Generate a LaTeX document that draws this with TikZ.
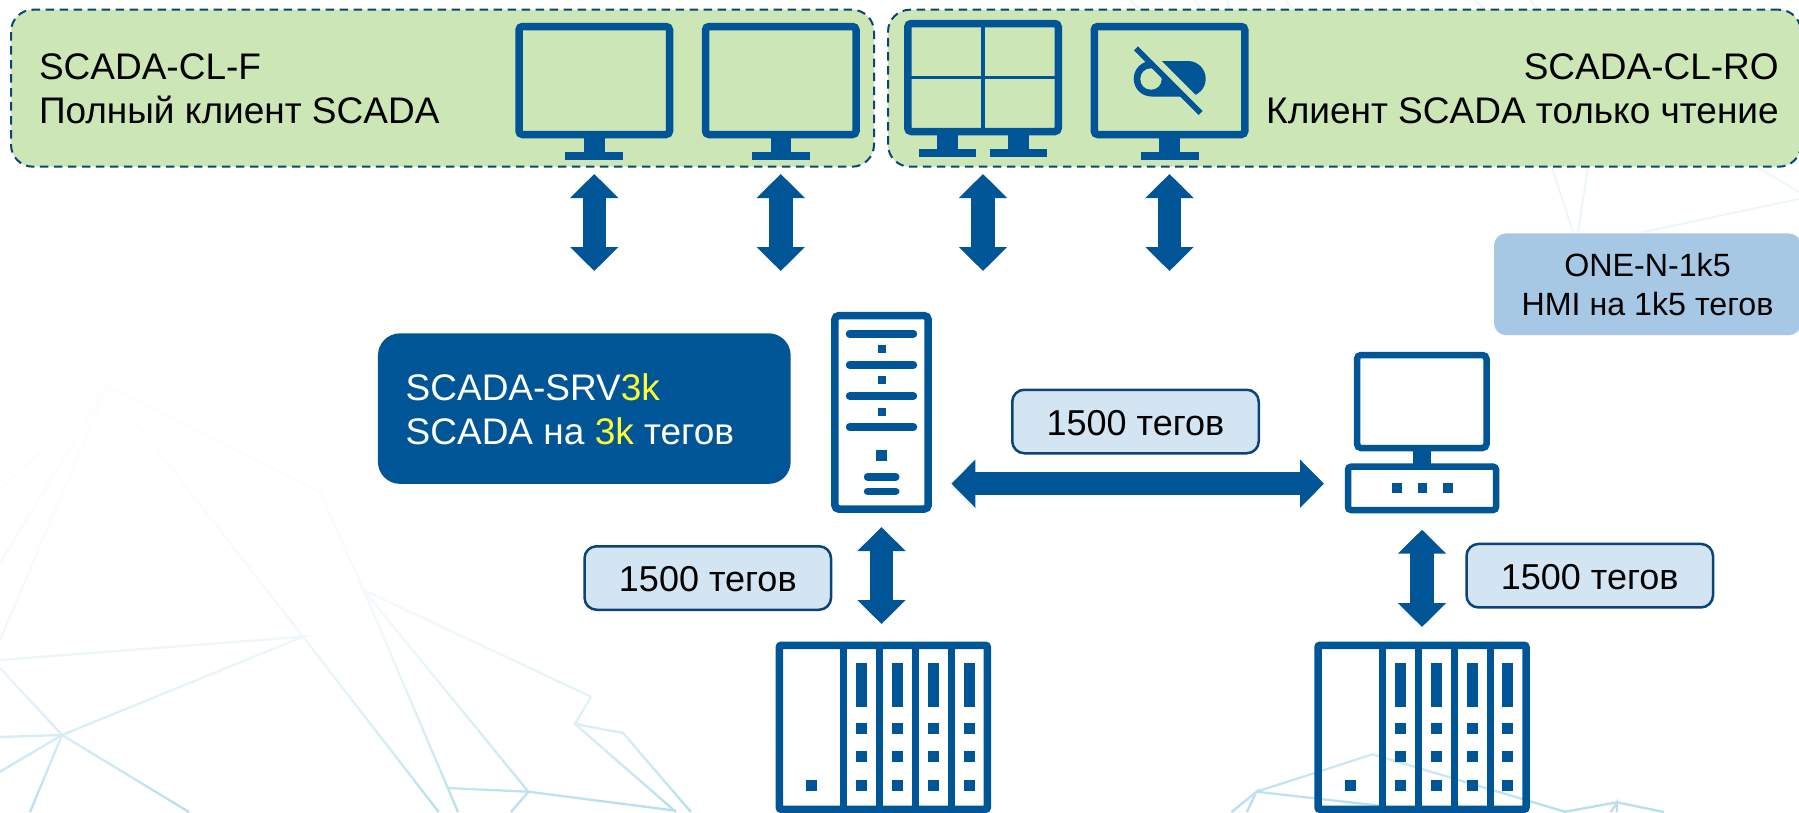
\documentclass[tikz,border=0pt]{standalone}
\usepackage{fontspec}
\setmainfont{Liberation Sans}
\usetikzlibrary{arrows.meta}
\definecolor{mainblue}{HTML}{005596}
\definecolor{edgeblue}{HTML}{0A4478}
\definecolor{panelgreen}{HTML}{CDE6B5}
\definecolor{tagblue}{HTML}{D3E4F3}
\definecolor{hmiblue}{HTML}{A6C8E4}
\definecolor{srvyellow}{HTML}{FFFF33}
\definecolor{meshblue}{HTML}{B5DFEE}
\definecolor{meshpale}{HTML}{EDF7FB}
\begin{document}
\begin{tikzpicture}[x=1pt,y=-1pt,
	panel/.style={rounded corners=22pt,fill=panelgreen,draw=edgeblue,line width=2pt,dash pattern=on 8.5pt off 5.5pt,inner sep=0,outer sep=0,minimum height=157pt},
	screen/.style={rounded corners=3.5pt,draw=mainblue,line width=7.5pt,inner sep=0,outer sep=0,minimum width=150.5pt,minimum height=108pt},
	plate/.style={fill=mainblue,inner sep=0,outer sep=0},
	tag/.style={rounded corners=12pt,fill=tagblue,draw=edgeblue,line width=2.5pt,inner sep=0,outer sep=0,minimum width=246.5pt,minimum height=63.5pt,text height=27pt,text depth=0pt,font=\fontsize{36}{44}\selectfont},
	big/.style={font=\fontsize{37}{44}\selectfont,inner sep=0,outer sep=0},
	flow/.style={{Triangle[length=24pt,width=47pt]}-{Triangle[length=24pt,width=47pt]},line width=23.5pt,mainblue},
	mesh/.style={meshblue,line width=2.3pt},
	rack/.style={rounded corners=2pt,draw=mainblue,line width=7.5pt,inner sep=0,outer sep=0,minimum width=208pt,minimum height=164pt}]

	\useasboundingbox (0,0) rectangle (1799,812);

	\draw[mesh] (0,490) -- (107.6,386) -- (0,563);
	\draw[mesh] (107.6,386) -- (0,640);
	\draw[mesh] (107.6,386) -- (303,636.7) -- (438.7,812);
	\draw[mesh] (107.6,386) -- (320,491.7) -- (363.5,590) -- (458,812);
	\draw[mesh] (363.5,590) -- (591,696.7) -- (575,724) -- (623,733) -- (691,812);
	\draw[mesh] (363.5,590) -- (528.4,791.7) -- (676,810.7);
	\draw[mesh] (575,724) -- (676,812);
	\draw[mesh] (448,788) -- (528.4,791.7) -- (511,812);
	\draw[mesh] (0,660) -- (303,636.7) -- (62,735) -- (0,668);
	\draw[mesh] (0,737) -- (62,735) -- (0,771.7);
	\draw[mesh] (30,812) -- (62,735) -- (189,812);
	\draw[mesh] (1231.6,812) -- (1256.4,791.7) -- (1247,812);
	\draw[mesh] (1256.4,791.7) -- (1372.5,754.3) -- (1566,812);
	\draw[mesh] (1256.4,791.7) -- (1380,805.7);
	\draw[mesh] (1563.6,812) -- (1617,802.3) -- (1664,812);
	\draw[mesh] (1611,812) -- (1617,802.3) -- (1617,812);
	\foreach \yy in {370,380,...,810} {
		\pgfmathsetmacro{\fadeval}{0.95-0.95*pow((\yy+5-370)/442,3.5)}
		\fill[white,opacity=\fadeval] (-1,\yy) rectangle (1800,\yy+10);
	}

	\draw[meshpale,line width=2pt] (1551.7,167) -- (1573,232);
	\draw[meshpale,line width=2pt] (1588,167) -- (1578,232);
	\draw[meshpale,line width=2pt] (1757,167) -- (1799,192);
	\draw[meshpale,line width=2pt] (1799,199) -- (1643,232);
	\foreach \xa/\xb in {1130/1143,1195/1202,1227/1230,1285/1295,1474/1488,1530/1540}
		\draw[meshpale,line width=2pt] (\xa,0) -- (\xb,12);

	\node[panel, minimum width=863pt] (clf) at (442.5,88.2) {};
	\node[panel, minimum width=913pt] (clro) at (1344.5,88.2) {};
	\node[big, anchor=base west, align=left] (clftext) at (39,123.3) {SCADA-CL-F\\Полный клиент SCADA};
	\node[big, anchor=base east, align=right] (clrotext) at (1778.7,123.3) {SCADA-CL-RO\\Клиент SCADA только чтение};

	\node[screen] (mon1) at (594.25,80.5) {};
	\node[plate, minimum width=20.5pt, minimum height=15pt] (neck1) [below of=mon1, node distance=64.5pt] {};
	\node[plate, minimum width=58pt, minimum height=8pt] (base1) [below of=mon1, node distance=75.5pt] {};
	\node[screen] (mon2) at (780.75,80.5) {};
	\node[plate, minimum width=20.5pt, minimum height=15pt] (neck2) [below of=mon2, node distance=64.5pt] {};
	\node[plate, minimum width=58pt, minimum height=8pt] (base2) [below of=mon2, node distance=75.5pt] {};
	\node[screen] (mon4) at (1169.5,80.5) {};
	\node[plate, minimum width=20.5pt, minimum height=15pt] (neck4) [below of=mon4, node distance=64.5pt] {};
	\node[plate, minimum width=58pt, minimum height=8pt] (base4) [below of=mon4, node distance=75.5pt] {};

	\node[screen] (mon3) at (983,77.5) {};
	\draw[mainblue,line width=3.5pt] (mon3.north) -- (mon3.south);
	\draw[mainblue,line width=3.5pt] (mon3.west) -- (mon3.east);
	\foreach \xs in {947.5,1018} {
		\fill[mainblue] (\xs-10.5,135) rectangle ++(21,15);
		\fill[mainblue] (\xs-28.5,149) rectangle ++(57,8);
	}

	\fill[mainblue, rounded corners=17.7pt] (1133.7,61) rectangle (1205.7,96.5);
	\fill[panelgreen] (1151,79) circle[radius=10.7pt];
	\draw[panelgreen,line width=6.4pt] (1140,44) -- (1210,114);
	\draw[mainblue,line width=5.7pt] (1136,48.3) -- (1200.7,113);

	\coordinate (a1) at (594.25,271);
	\coordinate (a2) at (780.75,271);
	\coordinate (a3) at (983,271);
	\coordinate (a4) at (1169.5,271);
	\draw[flow, shorten <=14pt] (base1) -- (a1);
	\draw[flow, shorten <=14pt] (base2) -- (a2);
	\draw[flow, shorten <=42.5pt] (mon3) -- (a3);
	\draw[flow, shorten <=14pt] (base4) -- (a4);

	\node[rounded corners=12pt, fill=hmiblue, inner sep=0, minimum width=307pt, minimum height=101.7pt, align=center, font=\fontsize{32.2}{38.7}\selectfont] (hmi) at (1647.5,284.3) {ONE-N-1k5\\HMI на 1k5 тегов};

	\node[rounded corners=22pt, fill=mainblue, inner sep=0, minimum width=412.7pt, minimum height=150.5pt] (srvbox) at (584.3,408.6) {};
	\node[big, text=white, anchor=base west, align=left] (srvtext) at (405.7,444.7) {SCADA-SRV\textcolor{srvyellow}{3k}\\SCADA на \textcolor{srvyellow}{3k} тегов};

	\node[rounded corners=4pt, draw=mainblue, line width=7.5pt, inner sep=0, outer sep=0, minimum width=93.3pt, minimum height=193.5pt] (srv) at (881.5,412.35) {};
	\foreach \yy in {333.7,365,396,427}
		\draw[mainblue, line width=7.6pt, line cap=round] (849.6,\yy) -- (913.4,\yy);
	\foreach \yy in {349,380,412}
		\fill[mainblue] (878,\yy-4) rectangle ++(8,8);
	\fill[mainblue] (876.2,450.2) rectangle ++(11,11);
	\foreach \yy in {477,491.3}
		\draw[mainblue, line width=7.6pt, line cap=round] (867.6,\yy) -- (895.7,\yy);

	\node[rounded corners=4pt, draw=mainblue, line width=6.5pt, inner sep=0, outer sep=0, minimum width=129.5pt, minimum height=93pt] (pcscreen) at (1421.75,401.5) {};
	\node[plate, minimum width=18.4pt, minimum height=14pt] (pcneck) [below of=pcscreen, node distance=56.5pt] {};
	\node[rounded corners=3pt, draw=mainblue, line width=6.5pt, inner sep=0, outer sep=0, minimum width=148pt, minimum height=43.3pt] (pcbox) at (1422,488.35) {};
	\foreach \xs in {1397,1422.5,1448}
		\fill[mainblue] (\xs-4.8,483.2) rectangle ++(9.6,9.6);

	\foreach \rname/\ox in {rackA/779.3,rackB/1318} {
		\node[rack] (\rname) at (\ox+104,727.3) {};
		\foreach \dx in {64.5,100.5,136,172}
			\draw[mainblue, line width=7pt] (\ox+\dx,645) -- (\ox+\dx,809);
		\foreach \dx in {82.4,118.4,154,189.7} {
			\fill[mainblue] (\ox+\dx-5.5,663) rectangle ++(11,44);
			\foreach \yy in {728,756.3,785.3}
				\fill[mainblue] (\ox+\dx-5.5,\yy-5.5) rectangle ++(11,11);
		}
		\fill[mainblue] (\ox+32-5.5,785.3-5.5) rectangle ++(11,11);
	}

	\coordinate (hlink) at (1136,483.7);
	\draw[flow, shorten <=23.25pt, shorten >=24pt] (srv.east |- hlink) -- (pcbox.west |- hlink);
	\draw[flow, shorten <=18pt, shorten >=21.3pt] (srv.south) -- (srv.south |- rackA.north);
	\draw[flow, shorten <=19.7pt, shorten >=18.3pt] (pcbox.south) -- (pcbox.south |- rackB.north);

	\node[tag] (tagtop) at (1135.5,421.5) {1500 тегов};
	\node[tag] (tagleft) at (707.8,578) {1500 тегов};
	\node[tag] (tagright) at (1589.75,575.7) {1500 тегов};

\end{tikzpicture}
\end{document}
